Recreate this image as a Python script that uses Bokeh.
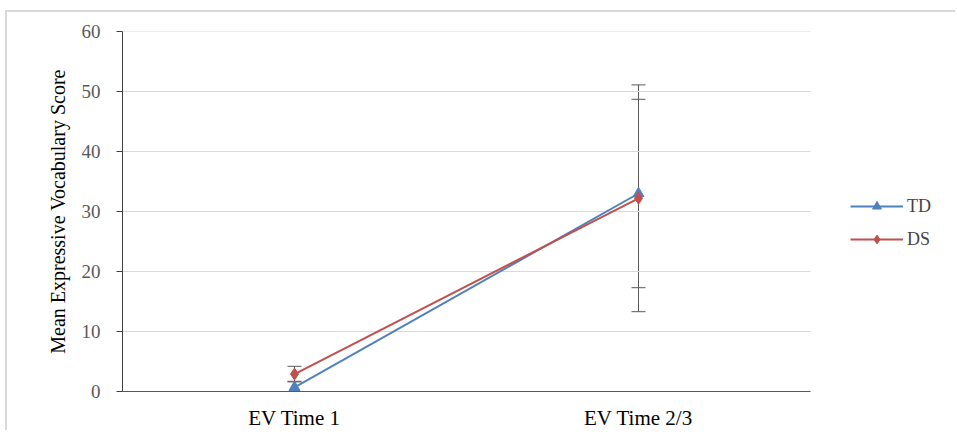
from bokeh.plotting import figure
from bokeh.models import Range1d, ColumnDataSource, Whisker, TeeHead, Legend, LegendItem, FixedTicker
from bokeh.embed import file_html
from bokeh.resources import INLINE

categories = ["EV Time 1", "EV Time 2/3"]
td_mean = [0.7, 33.0]
td_err = [1.0, 15.7]
ds_mean = [2.9, 32.2]
ds_err = [1.3, 18.9]
series_names = ["TD", "DS"]
y_ticks = [0, 10, 20, 30, 40, 50, 60]

n = len(categories)
x_pos = [i + 0.5 for i in range(n)]

FONT = "Liberation Serif"
p = figure(width=950, height=420, x_range=Range1d(0, n * 835 / 688), y_range=Range1d(0, 60),
           output_backend="svg", toolbar_location=None,
           min_border_left=115, min_border_right=0, min_border_top=19, min_border_bottom=39,
           margin=(10, 0, 0, 5))
p.styles = {"border-top": "2px solid #d9d9d9", "border-left": "2px solid #d9d9d9"}
p.outline_line_color = None
p.xgrid.grid_line_color = None
p.ygrid.grid_line_color = None
p.segment(x0=0, x1=n, y0=y_ticks, y1=y_ticks, line_color="#d9d9d9", line_width=1)

p.yaxis.ticker = FixedTicker(ticks=y_ticks)
p.yaxis.minor_tick_line_color = None
p.yaxis.major_tick_out = 6
p.yaxis.major_tick_in = 0
p.yaxis.major_tick_line_color = "#404040"
p.yaxis.axis_line_color = "#404040"
p.yaxis.major_label_text_font = FONT
p.yaxis.major_label_text_font_size = "19px"
p.yaxis.major_label_text_color = "#595959"
p.yaxis.major_label_standoff = 16
p.yaxis.axis_label = "Mean Expressive Vocabulary Score"
p.yaxis.axis_label_text_font = FONT
p.yaxis.axis_label_text_font_size = "20px"
p.yaxis.axis_label_text_font_style = "normal"
p.yaxis.axis_label_text_color = "#000000"
p.yaxis.axis_label_standoff = 10

p.xaxis.ticker = FixedTicker(ticks=x_pos)
p.xaxis.major_label_overrides = {x: c for x, c in zip(x_pos, categories)}
p.xaxis.bounds = (0, n)
p.xaxis.major_tick_line_color = None
p.xaxis.minor_tick_line_color = None
p.xaxis.axis_line_color = "#595959"
p.xaxis.major_label_text_font = FONT
p.xaxis.major_label_text_font_size = "21px"
p.xaxis.major_label_text_color = "#000000"
p.xaxis.major_label_standoff = 8

colors = ["#4f81bd", "#c0504d"]
means = [td_mean, ds_mean]
errs = [td_err, ds_err]
markers = ["triangle", "diamond"]
items = []
for name, m, e, c, mk in zip(series_names, means, errs, colors, markers):
    src = ColumnDataSource(dict(x=x_pos, y=m,
                                upper=[a + b for a, b in zip(m, e)],
                                lower=[a - b for a, b in zip(m, e)]))
    w = Whisker(source=src, base="x", upper="upper", lower="lower", line_color="#595959", line_width=1,
                upper_head=TeeHead(size=14, line_color="#595959", line_width=1),
                lower_head=TeeHead(size=14, line_color="#595959", line_width=1))
    p.add_layout(w)
    r1 = p.line("x", "y", source=src, line_color=c, line_width=2)
    r2 = p.scatter("x", "y", source=src, marker=mk, size=11 if mk == "triangle" else 12,
                   fill_color=c, line_color=c)
    items.append(LegendItem(label=name, renderers=[r1, r2]))

legend = Legend(items=items, location=(728, 141), background_fill_alpha=0, border_line_color=None,
                label_text_font=FONT, label_text_font_size="18px", glyph_width=53, glyph_height=22,
                spacing=11, label_standoff=4, padding=0, margin=0)
p.add_layout(legend)

open("out.html", "w").write(file_html(p, INLINE))
